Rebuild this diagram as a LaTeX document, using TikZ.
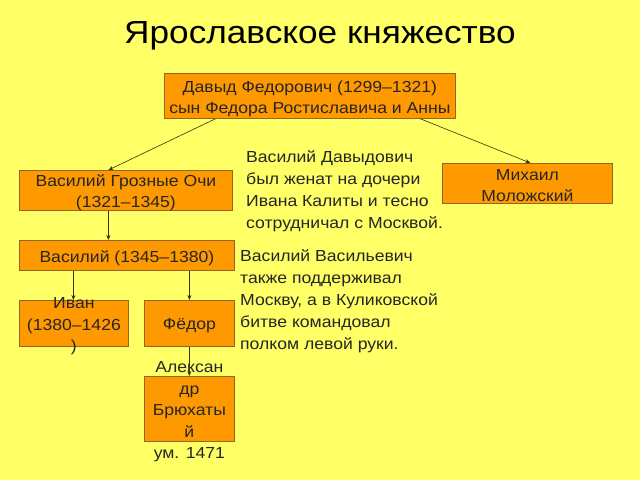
\documentclass[tikz,border=0pt]{standalone}
\usepackage{fontspec}
\setmainfont{Liberation Sans}[FakeStretch=1.1]
\usetikzlibrary{arrows.meta}
\definecolor{bgyellow}{RGB}{255,255,102}
\definecolor{boxorange}{RGB}{255,153,0}
\definecolor{boxborder}{RGB}{150,100,40}
\definecolor{linkcol}{RGB}{60,50,10}
\tikzset{
  box/.style={draw=boxborder, line width=0.8pt, fill=boxorange, inner sep=0pt, anchor=north west},
  boxtext/.style={font=\fontsize{16}{21.5}\selectfont, align=center, inner sep=0pt, text=black!85},
  note/.style={font=\fontsize{16}{22}\selectfont, align=left, inner sep=0pt, anchor=north west, text=black!85},
  link/.style={draw=linkcol, line width=0.6pt, -{Stealth[length=5pt,width=4pt]}}
}
\begin{document}
\begin{tikzpicture}[x=1pt,y=-1pt]
\fill[bgyellow] (0,0) rectangle (640,480);
\useasboundingbox (0,0) rectangle (640,480);
\node[font=\fontsize{32}{34}\selectfont, inner sep=0pt] (title) at (320,36) {Ярославское княжество};
% boxes
\node[box, minimum width=291pt, minimum height=45pt] (david) at (164,73) {};
\node[box, minimum width=213pt, minimum height=40pt] (vgo) at (19,170) {};
\node[box, minimum width=170pt, minimum height=40pt] (mikh) at (442,163) {};
\node[box, minimum width=215pt, minimum height=30pt] (vas) at (19,240) {};
\node[box, minimum width=109pt, minimum height=46pt] (ivan) at (19,300) {};
\node[box, minimum width=90pt, minimum height=46pt] (fed) at (144,300) {};
\node[box, minimum width=90pt, minimum height=65pt] (alex) at (144,376) {};
% box texts
\node[boxtext] (davidt) at ([yshift=-3pt]david.center) {Давыд Федорович (1299–1321)\\сын Федора Ростиславича и Анны};
\node[boxtext] (vgot) at ([yshift=-2.5pt]vgo.center) {Василий Грозные Очи\\(1321–1345)};
\node[boxtext] (mikht) at ([yshift=-2pt]mikh.center) {Михаил\\Моложский};
\node[boxtext] (vast) at ([yshift=-2.5pt]vas.center) {Василий (1345–1380)};
\node[boxtext] (ivant) at ([yshift=-3pt]ivan.center) {Иван\\(1380–1426\\)};
\node[boxtext] (fedt) at ([yshift=-2.5pt]fed.center) {Фёдор};
\node[boxtext] (alext) at ([yshift=-3pt]alex.center) {Алексан\\др\\Брюхаты\\й\\ум. 1471};
% notes
\node[note] (note1) at (246,150) {Василий Давыдович\\был женат на дочери\\Ивана Калиты и тесно\\сотрудничал с Москвой.};
\node[note] (note2) at (240,249) {Василий Васильевич\\также поддерживал\\Москву, а в Куликовской\\битве командовал\\полком левой руки.};
% connectors
\coordinate (d1) at ([xshift=-94.5pt]david.south);
\coordinate (d2) at ([xshift=110.5pt]david.south);
\draw[link] (d1) -- ([xshift=-17.5pt]vgo.north);
\draw[link] (d2) -- ([xshift=3pt]mikh.north);
\draw[link] ([xshift=-17.5pt]vgo.south) -- ([xshift=-18.5pt]vas.north);
\draw[link] ([xshift=-53.5pt]vas.south) -- ([xshift=-0.5pt]ivan.north);
\draw[link] ([xshift=62.5pt]vas.south) -- (fed.north);
\draw[link] (fed.south) -- (alex.north);
\end{tikzpicture}
\end{document}
